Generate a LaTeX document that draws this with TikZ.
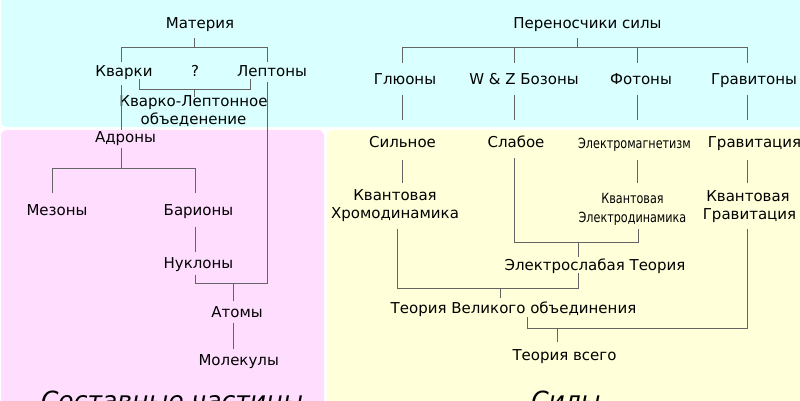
\documentclass[tikz,border=0pt]{standalone}
\usepackage{fontspec}
\setmainfont{DejaVu Sans}
\definecolor{cyanbg}{RGB}{217,255,255}
\definecolor{pinkbg}{RGB}{255,221,255}
\definecolor{yellowbg}{RGB}{255,255,218}
\definecolor{lncol}{RGB}{100,100,100}
\begin{document}
\begin{tikzpicture}[x=1pt,y=-1pt,
  lbl/.style={inner sep=0pt, anchor=base, font=\fontsize{15}{18}\selectfont},
  nar/.style={inner sep=0pt, anchor=base, font=\fontsize{14}{16}\selectfont},
  big/.style={inner sep=0pt, anchor=base, font=\fontsize{25}{30}\selectfont\itshape},
  conn/.style={draw=lncol, line width=1pt},
  panel/.style={rounded corners=6pt}]
\useasboundingbox (0,0) rectangle (800,400);
% panels
\fill[cyanbg, panel] (1,-20) rectangle (820,127);
\fill[pinkbg, panel] (1,130) rectangle (324,420);
\fill[yellowbg, panel] (327,130) rectangle (820,420);

% ---- left: composite particles
\node[lbl] (mat) at (200,28) {Материя};
\node[lbl] (quark) at (124,76) {Кварки};
\node[lbl] (qm) at (195,76) {?};
\node[lbl] (lept) at (272,76) {Лептоны};
\node[lbl] (ql1) at (193.5,106) {Кварко-Лептонное};
\node[lbl] (ql2) at (193.5,124) {объеденение};
\node[lbl] (hadr) at (125.5,142) {Адроны};
\node[lbl] (mes) at (57,215) {Мезоны};
\node[lbl] (bar) at (198.5,215) {Барионы};
\node[lbl] (nucl) at (198.5,268) {Нуклоны};
\node[lbl] (atom) at (237,317) {Атомы};
\node[lbl] (mol) at (238.7,365) {Молекулы};
\node[big] (comp) at (172,409) {Составные частицы};

\coordinate (jm) at (194,47);
\coordinate (jq) at (194,89);
\coordinate (jh) at (121,168);
\coordinate (ja) at (233,283);

\draw[conn] (194,38) -- (jm);
\draw[conn] (121,62) -- (121,47) -- (267,47) -- (267,62);
\draw[conn] (139,79) -- (139,89) -- (250,89) -- (250,79);
\draw[conn] (jq) -- (194,97);
\draw[conn] (121,85) -- (121,130);
\draw[conn] (267,82) -- (267,283) -- (195,283) -- (195,275);
\draw[conn] (ja) -- (233,301);
\draw[conn] (121,148) -- (jh);
\draw[conn] (52,193) -- (52,168) -- (195,168) -- (195,193);
\draw[conn] (195,227) -- (195,252);
\draw[conn] (233,323) -- (233,349);

% ---- right: forces
\node[lbl] (carr) at (587.5,28) {Переносчики силы};
\node[lbl] (glu) at (405,84) {Глюоны};
\node[lbl] (wz) at (524,84) {W \& Z Бозоны};
\node[lbl] (pho) at (641,84) {Фотоны};
\node[lbl] (grv) at (754,84) {Гравитоны};
\node[lbl] (strong) at (402.5,147) {Сильное};
\node[lbl] (weak) at (516,147) {Слабое};
\node[nar] (em) at (634.5,148) {\scalebox{0.8}[1]{Электромагнетизм}};
\node[lbl] (grav) at (754.5,147) {Гравитация};
\node[lbl] (qcd1) at (395,200) {Квантовая};
\node[lbl] (qcd2) at (395,218.5) {Хромодинамика};
\node[nar] (qed1) at (632.5,203) {\scalebox{0.8}[1]{Квантовая}};
\node[nar] (qed2) at (632.5,222) {\scalebox{0.8}[1]{Электродинамика}};
\node[lbl] (qg1) at (748,201) {Квантовая};
\node[lbl] (qg2) at (749.5,219.5) {Гравитация};
\node[lbl] (ew) at (595,270) {Электрослабая Теория};
\node[lbl] (gut) at (513.5,313.5) {Теория Великого объединения};
\node[lbl] (toe) at (564.5,360) {Теория всего};
\node[big] (forces) at (566,409) {Силы};

\draw[conn] (577,38) -- (577,47);
\draw[conn] (402,63) -- (402,47) -- (747,47) -- (747,63);
\draw[conn] (514.7,47) -- (514.7,63);
\draw[conn] (637,47) -- (637,63);
\foreach \x in {402,514.7,637,747} \draw[conn] (\x,95) -- (\x,120);
\foreach \x in {402,637,747} \draw[conn] (\x,160) -- (\x,183);
\draw[conn] (514.7,158) -- (514.7,242) -- (638,242) -- (638,229);
\draw[conn] (578,242) -- (578,257);
\draw[conn] (397,229) -- (397,288) -- (578,288) -- (578,273);
\draw[conn] (500,288) -- (500,298);
\draw[conn] (527.7,317) -- (527.7,328) -- (747,328) -- (747,229);
\draw[conn] (557,328) -- (557,342);
\end{tikzpicture}
\end{document}
